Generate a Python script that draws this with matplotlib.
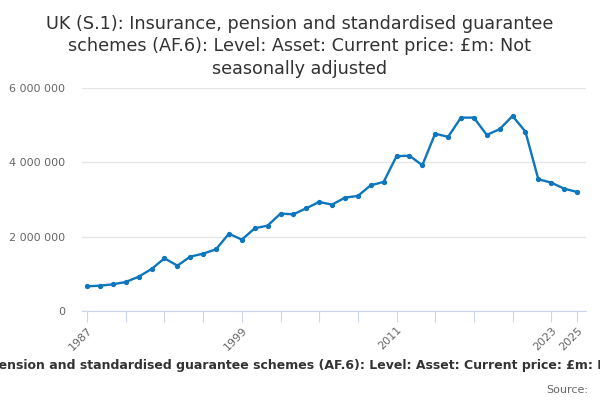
import matplotlib

matplotlib.use("Agg")

import matplotlib.pyplot as plt
from matplotlib.ticker import FuncFormatter

plt.rcParams["font.family"] = ["DejaVu Sans"]

years = list(range(1987, 2026))
values = [
    665000, 681000, 718000, 781000, 924000, 1131000, 1418000, 1220000,
    1463000, 1543000, 1660000, 2081000, 1920000, 2225000, 2297000, 2620000,
    2602000, 2764000, 2934000, 2862000, 3050000, 3096000, 3383000, 3472000,
    4164000, 4180000, 3922000, 4773000, 4684000, 5203000, 5203000, 4738000,
    4891000, 5249000, 4826000, 3545000, 3454000, 3292000, 3203000,
]
tick_years = list(range(1987, 2024, 3)) + [2025]
label_years = [1987, 1999, 2011, 2023, 2025]
y_ticks = [0, 2000000, 4000000, 6000000]

title = ("UK (S.1): Insurance, pension and standardised guarantee\n"
         "schemes (AF.6): Level: Asset: Current price: £m: Not\n"
         "seasonally adjusted")
axis_title = ("UK (S.1): Insurance, pension and standardised guarantee schemes (AF.6): "
              "Level: Asset: Current price: £m: Not seasonally adjusted")

LINE = "#0d76bd"
GRID = "#e6e6e6"
AXIS = "#ccd6eb"
TEXT = "#666666"

fig = plt.figure(figsize=(6, 4), dpi=100)
ax = fig.add_axes([82 / 600, 1 - 311 / 400, (586 - 82) / 600, (311 - 88) / 400])

ax.plot(years, values, color=LINE, linewidth=1.7, marker="o", markersize=2.8, zorder=3)

ax.set_xlim(1986.6, 2025.7)
ax.set_ylim(0, 6000000)
ax.set_yticks(y_ticks)
ax.yaxis.set_major_formatter(FuncFormatter(lambda v, _: f"{int(v):,}".replace(",", " ")))
ax.grid(axis="y", color=GRID, linewidth=1)
ax.set_axisbelow(True)

ax.set_xticks(tick_years)
ax.set_xticklabels([str(y) if y in label_years else "" for y in tick_years],
                   rotation=45, ha="right", rotation_mode="anchor")

for side in ["top", "right", "left"]:
    ax.spines[side].set_visible(False)
ax.spines["bottom"].set_color(AXIS)
ax.tick_params(axis="y", length=0, labelsize=8, labelcolor=TEXT, pad=12)
ax.tick_params(axis="x", length=8, color=AXIS, labelsize=8, labelcolor=TEXT, pad=2)

fig.text(0.5, 0.962, title, ha="center", va="top", fontsize=12.7, color="#333333", linespacing=1.3)
fig.text(0.508, 0.085, axis_title, ha="center", va="center", fontsize=9, fontweight="bold", color="#333333")
fig.text(0.98, 0.025, "Source:", ha="right", va="center", fontsize=8, color=TEXT)

fig.savefig("out.png", dpi=100)
plt.close(fig)
